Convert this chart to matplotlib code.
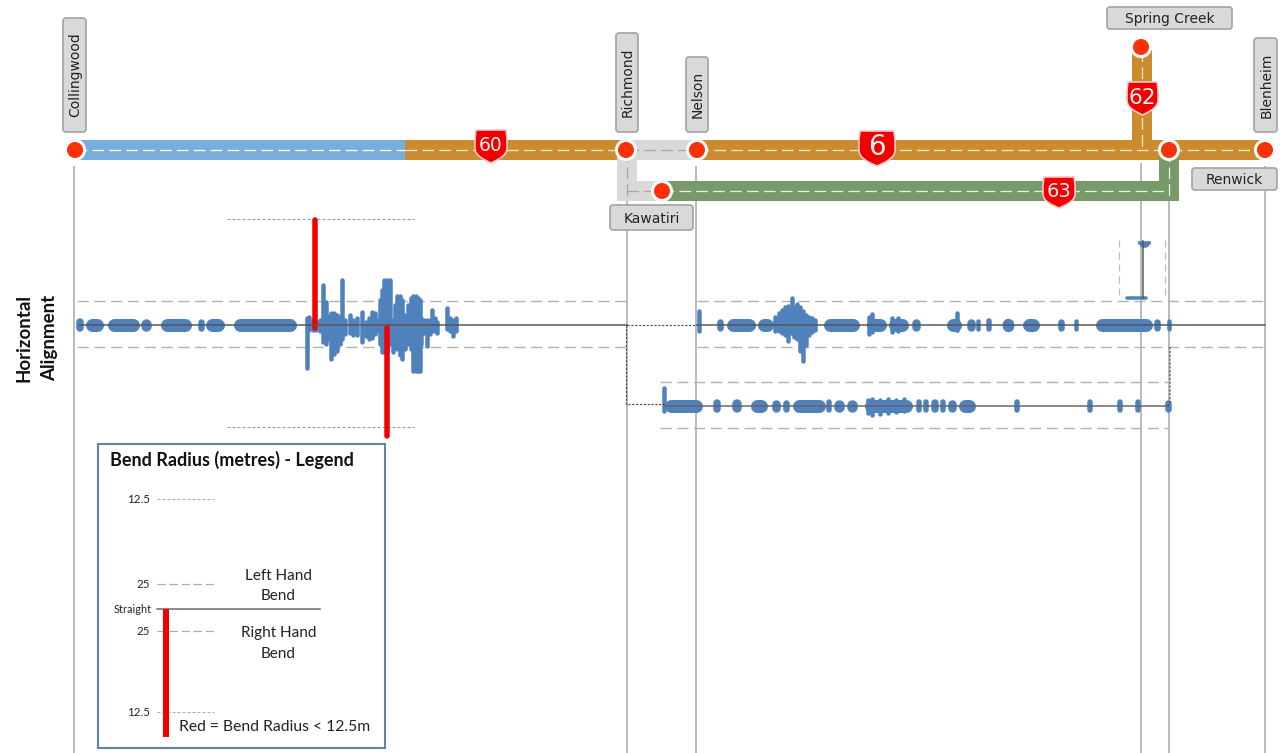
import numpy as np
import matplotlib
matplotlib.use('Agg')
import matplotlib.pyplot as plt
from matplotlib.patches import Circle, FancyBboxPatch, PathPatch, Rectangle
from matplotlib.path import Path

# everything is measured on a 1284x753 canvas, y going down
BASE_MAIN = 324.5
BASE_LOWER = 405.5

# route strips: x0, y0, x1, y1, colour name
route_segments = [
    (75, 150, 405, 150, 'blue'), (405, 150, 627, 150, 'orange'), (627, 150, 697, 150, 'grey'),
    (697, 150, 1265, 150, 'orange'), (1142, 50, 1142, 150, 'orange'), (627, 150, 627, 201, 'grey'),
    (627, 191, 662, 191, 'grey'), (662, 191, 1169, 191, 'green'), (1169, 150, 1169, 201, 'green'),
]
route_colours = {'blue': '#78aedd', 'orange': '#cb8c30', 'grey': '#d9d9d9', 'green': '#789a69'}
dash_colours = {'blue': 'white', 'orange': '#f6e8cf', 'grey': '#a6a6a6', 'green': '#e8efe2'}

node_x = [75, 626, 697, 1141, 1169, 1265, 662]
node_y = [150, 150, 150, 47, 150, 150, 191]

# label, x0, y0, x1, y1, vertical text
place_names = ['Collingwood', 'Richmond', 'Nelson', 'Spring Creek', 'Blenheim', 'Renwick', 'Kawatiri']
place_boxes = [(63, 18, 86, 132), (616, 33, 638, 132), (686, 57, 708, 132), (1107, 7, 1232, 29),
               (1254, 38, 1277, 132), (1192, 168, 1277, 190), (610, 205, 693, 230)]

shield_labels = ['60', '6', '62', '63']
shield_boxes = [(475, 130, 507, 163), (859, 131, 895, 166), (1127, 82, 1158, 115), (1043, 177, 1075, 208)]
shield_sizes = [13.5, 20, 15.5, 14]

station_x = [74, 627, 696, 1141, 1169, 1265]
station_top = [166, 166, 166, 163, 163, 166]

# straight-ish runs of the alignment (chainage from, chainage to)
main_runs = [(77, 83), (85, 103), (107, 139), (141, 150), (160, 191), (198, 203), (205, 224), (233, 296),
             (301, 313), (717, 722), (726, 755), (757, 773), (823, 859), (866, 886), (888, 908), (912, 919),
             (926, 937), (946, 961), (967, 974), (976, 979), (987, 991), (1003, 1013), (1022, 1039),
             (1058, 1063), (1074, 1077), (1081, 1092), (1095, 1152), (1154, 1159), (1167, 1170)]
lower_runs = [(664, 702), (714, 720), (733, 741), (750, 767), (772, 779), (783, 788), (792, 825), (827, 831),
              (834, 843), (847, 856), (864, 912), (917, 921), (924, 928), (932, 938), (941, 945), (948, 955),
              (958, 975), (1015, 1019), (1088, 1092), (1097, 1109), (1118, 1122), (1136, 1140), (1165, 1170)]

# bendy parts: chainage, offset above the line, offset below the line
left_x = [307, 309, 313, 316, 320, 323, 326, 329, 331, 334, 337, 340, 342, 345, 350, 353, 357, 362, 366, 369,
          372, 375, 378, 380, 382, 384, 387, 390, 393, 395, 397, 400, 402, 405, 408, 411, 413, 416, 418, 420,
          421, 424, 427, 430, 432, 435, 437, 447, 450, 453, 456]
left_up = [7, 8, 5, 4, 5, 40, 23, 9, 12, 12, 10, 8, 45, 5, 10, 5, 7, 13, 3, 7,
           13, 12, 5, 25, 35, 45, 45, 45, 5, 20, 29, 29, 25, 10, 20, 27, 29, 29, 27, 25,
           7, 5, 5, 5, 15, 7, 3, 17, 7, 5, 7]
left_down = [43, 5, 5, 5, 6, 17, 19, 14, 34, 29, 26, 19, 14, 9, 8, 10, 10, 17, 11, 14,
             13, 9, 6, 19, 27, 27, 27, 19, 27, 22, 24, 30, 34, 24, 19, 24, 46, 46, 46, 46,
             19, 8, 21, 9, 6, 6, 8, 4, 6, 11, 6]
right_x = [699, 775, 779, 782, 785, 788, 790, 792, 794, 797, 800, 803, 806, 809, 812, 815]
right_up = [14, 8, 12, 15, 18, 19, 10, 27, 18, 21, 18, 14, 10, 8, 7, 5]
right_down = [6, 6, 6, 8, 10, 16, 8, 8, 12, 14, 26, 36, 20, 10, 7, 5]
bump_x = [869, 872, 957, 892, 898, 957]
bump_up = [8, 11, 12, 7, 7, 5]
bump_down = [9, 7, 5, 7, 6, 5]
lower_bump_x = [868, 872, 880, 888, 896, 904, 664]
lower_bump_up = [6, 7, 6, 7, 6, 7, 18]
lower_bump_down = [7, 9, 8, 7, 6, 5, 5]

red_x = [314.5, 386.5]
red_up = [105, -3]
red_down = [3, 111]

# Spring Creek spur, plotted sideways
spur_x = [1139, 1141, 1143, 1145, 1147, 1149]
spur_top = [242, 242, 242, 242, 242, 242]
spur_bottom = [243, 245, 246, 246, 245, 243]
spur_base = (1127, 1146)

legend_ticks = ['12.5', '25', 'Straight', '25', '12.5']
legend_tick_y = [499, 584, 609, 631, 712]


def draw_shield(ax, box, label, size):
    x0, y0, x1, y1 = box
    w = x1 - x0
    h = y1 - y0
    cx = (x0 + x1) / 2
    verts = [(x0 + 0.03 * w, y0), (x1 - 0.03 * w, y0), (x1, y0 + 0.25 * h), (x1, y0 + 0.55 * h),
             (x1, y0 + 0.78 * h), (cx + 0.22 * w, y0 + 0.9 * h), (cx, y1),
             (cx - 0.22 * w, y0 + 0.9 * h), (x0, y0 + 0.78 * h), (x0, y0 + 0.55 * h),
             (x0, y0 + 0.25 * h), (x0 + 0.03 * w, y0), (x0 + 0.03 * w, y0)]
    codes = [Path.MOVETO, Path.LINETO, Path.LINETO, Path.LINETO, Path.CURVE4, Path.CURVE4, Path.CURVE4,
             Path.CURVE4, Path.CURVE4, Path.CURVE4, Path.LINETO, Path.LINETO, Path.CLOSEPOLY]
    ax.add_patch(PathPatch(Path(verts, codes), fc='#f00000', ec='#f8c8cc', lw=1.2, zorder=6))
    ax.text(cx, y0 + 0.47 * h, label, color='#fff0f0', fontsize=size, ha='center', va='center',
            family='DejaVu Sans', zorder=7)


def draw_runs(ax, runs, base, colour):
    thick = 13
    for start, stop in runs:
        width = stop - start
        if width >= thick:
            ax.plot([start + thick / 2, stop - thick / 2], [base + 0.5, base + 0.5], color=colour, lw=thick * px,
                    solid_capstyle='round', zorder=3)
        else:
            w = max(width + 1.5, 4)
            ax.plot([start + width / 2] * 2, [base + 0.5 - thick / 2 + w / 2, base + 0.5 + thick / 2 - w / 2],
                    color=colour, lw=w * px, solid_capstyle='round', zorder=3)


fig = plt.figure(figsize=(12.84, 7.53), dpi=100)
ax = fig.add_axes([0, 0, 1, 1])
ax.set_xlim(0, 1284)
ax.set_ylim(753, 0)
ax.axis('off')
px = 0.72

# station drop lines
ax.vlines(station_x, station_top, 753, color='#ababab', lw=1.6 * px, zorder=1)

# route strips
for x0, y0, x1, y1, name in route_segments:
    if x0 == x1:
        ax.add_patch(Rectangle((x0 - 10, y0), 19.5, y1 - y0, fc=route_colours[name], ec='none', zorder=2))
    else:
        ax.add_patch(Rectangle((x0, y0 - 10), x1 - x0, 19.5, fc=route_colours[name], ec='none', zorder=2))
    ax.plot([x0, x1], [y0, y1], color=dash_colours[name], lw=1.3 * px, dashes=(9, 4), zorder=3)

for x, y in zip(node_x, node_y):
    ax.add_patch(Circle((x, y), 11, fc='white', ec='none', zorder=4))
    ax.add_patch(Circle((x, y), 8, fc='#ff3008', ec='none', zorder=5))

for label, box, size in zip(shield_labels, shield_boxes, shield_sizes):
    draw_shield(ax, box, label, size)

for name, (x0, y0, x1, y1) in zip(place_names, place_boxes):
    ax.add_patch(FancyBboxPatch((x0 + 3, y0 + 3), x1 - x0 - 6, y1 - y0 - 6, boxstyle='round,pad=3,rounding_size=3',
                                fc='#d9d9d9', ec='#a8a8a8', lw=1.3, zorder=6))
    vertical = (y1 - y0) > (x1 - x0)
    tx = (x0 + x1) / 2 + (1 if vertical else 0)
    ty = (y0 + y1) / 2 + (0 if vertical else 1)
    ax.text(tx, ty, name, fontsize=10, rotation=90 if vertical else 0, ha='center', va='center',
            color='#222222', family='DejaVu Sans', zorder=7)

# reference lines for the alignment plot
grey_dash = dict(color='#b3b3b3', lw=1.4 * px, dashes=(8, 4), zorder=2)
for y in [301, 347]:
    ax.plot([77, 627], [y, y], **grey_dash)
    ax.plot([697, 1265], [y, y], **grey_dash)
for y in [382, 428]:
    ax.plot([660, 1168], [y, y], **grey_dash)
for y in [218.5, 427]:
    ax.plot([227, 414], [y, y], color='#999999', lw=1 * px, dashes=(3, 2), zorder=2)
for x in [1119, 1165]:
    ax.plot([x, x], [240, 300], color='#bdbdbd', lw=1.2 * px, dashes=(6, 4), zorder=2)

blue = '#4f81bd'
draw_runs(ax, main_runs, BASE_MAIN, blue)
draw_runs(ax, lower_runs, BASE_LOWER, blue)

for xs, up, down, base in [(left_x, left_up, left_down, BASE_MAIN), (right_x, right_up, right_down, BASE_MAIN),
                           (bump_x, bump_up, bump_down, BASE_MAIN),
                           (lower_bump_x, lower_bump_up, lower_bump_down, BASE_LOWER)]:
    ax.vlines(xs, base - np.array(up), base + np.array(down), color=blue, lw=4.5 * px, capstyle='round', zorder=3)
ax.vlines(spur_x, spur_top, spur_bottom, color=blue, lw=3 * px, capstyle='round', zorder=3)
ax.plot(spur_base, [298, 298], color=blue, lw=3.5 * px, solid_capstyle='round', zorder=3)

ax.vlines(red_x, BASE_MAIN - np.array(red_up), BASE_MAIN + np.array(red_down), color='#f50000', lw=5.5 * px,
          capstyle='round', zorder=4)

# centre lines and the dotted links between them
ax.plot([79, 627], [BASE_MAIN, BASE_MAIN], color='#555555', lw=1.5 * px, zorder=5)
ax.plot([697, 1265], [BASE_MAIN, BASE_MAIN], color='#555555', lw=1.5 * px, zorder=5)
ax.plot([664, 1168], [BASE_LOWER, BASE_LOWER], color='#666666', lw=1.5 * px, zorder=5)
ax.plot([1142.5, 1142.5], [241, 298], color='#555555', lw=1.5 * px, zorder=5)
dotted = dict(color='#444444', lw=1.1 * px, dashes=(2, 1.5), zorder=5)
ax.plot([627, 697], [BASE_MAIN, BASE_MAIN], **dotted)
ax.plot([626, 626, 664], [BASE_MAIN, 404, 404], **dotted)
ax.plot([1170, 1170, 1167], [347, 404, 406], **dotted)

ax.text(24.5, 337.5, 'Horizontal', rotation=90, fontsize=13.5, fontweight='bold', ha='center', va='center',
        family='Lato', color='#111111')
ax.text(49.5, 337.5, 'Alignment', rotation=90, fontsize=13.5, fontweight='bold', ha='center', va='center',
        family='Lato', color='#111111')

# legend panel
ax.add_patch(Rectangle((98, 444), 287, 304, fc='white', ec='#5f84a8', lw=1.5, zorder=2))
ax.text(110, 460, 'Bend Radius (metres) - Legend', fontsize=13, fontweight='bold', family='Lato',
        va='center', ha='left', color='#111111', zorder=3)
for label, y in zip(legend_ticks, legend_tick_y):
    size = 7.8 if label == 'Straight' else 8.3
    right = 152 if label == 'Straight' else 150
    ax.text(right, y + 0.5, label, fontsize=size, family='Lato', ha='right', va='center', color='#222222', zorder=3)
    if label == 'Straight':
        ax.plot([157, 320], [y, y], color='#666666', lw=1.5 * px, zorder=3)
    elif label == '12.5':
        ax.plot([157, 214], [y, y], color='#aaaaaa', lw=1 * px, dashes=(3, 2), zorder=3)
    else:
        ax.plot([157, 214], [y, y], color='#aaaaaa', lw=1.2 * px, dashes=(7, 3), zorder=3)
ax.vlines([165.5], [609], [737], color='#f50000', lw=6 * px, zorder=4)
for text, y in [('Left Hand', 575.5), ('Bend', 596.5), ('Right Hand', 632.5), ('Bend', 653.5)]:
    ax.text(278.5, y, text, fontsize=11, family='Lato', ha='center', va='center', color='#222222', zorder=3)
ax.text(179, 727, 'Red = Bend Radius < 12.5m', fontsize=11.3, family='Lato', ha='left', va='center',
        color='#222222', zorder=3)

fig.savefig('out.png', dpi=100)
